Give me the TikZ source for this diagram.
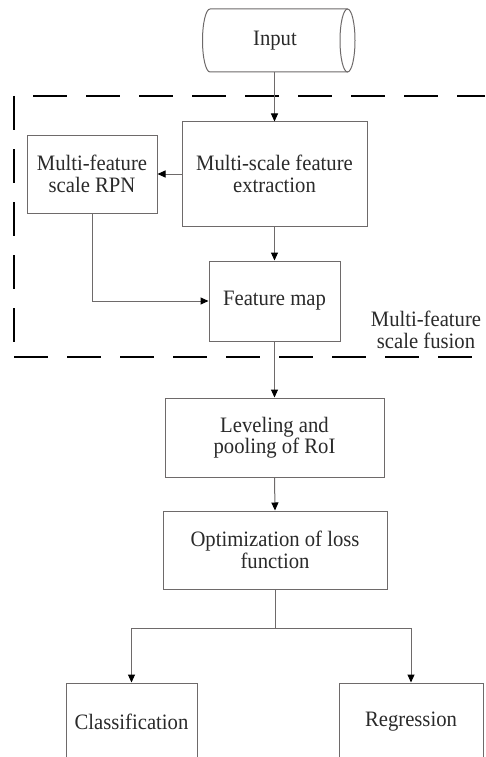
\documentclass[tikz,border=0pt]{standalone}
\usepackage{fontspec}
\setmainfont{Liberation Serif}[FakeStretch=0.94]
\usetikzlibrary{arrows.meta}
\definecolor{edge}{HTML}{6E6A6A}
\definecolor{ink}{HTML}{2A2A2A}
\tikzset{
  every node/.style={font=\fontsize{22}{21.5}\selectfont, text=ink},
  stepbox/.style={draw=edge, line width=1pt, align=center, inner sep=2pt},
  link/.style={draw=edge, line width=1pt},
  flow/.style={link, -{Triangle[length=8pt,width=7pt,color=black]}},
  groupline/.style={draw=black, line width=2.6pt, dash pattern=on 34pt off 19pt}
}
\begin{document}
\begin{tikzpicture}[x=1pt,y=-1pt]
\useasboundingbox (0,0) rectangle (485,757);
\clip (0,0) rectangle (485,757);
\fill[white] (0,0) rectangle (485,757);

% input drum
\draw[link] (210,9) -- (347.5,9)
  (210,72) -- (347.5,72)
  (210,9) .. controls (205.9,9) and (202.5,23.1) .. (202.5,40.5)
          .. controls (202.5,57.9) and (205.9,72) .. (210,72);
\draw[link] (347.5,40.5) ellipse [x radius=7.5, y radius=31.5];
\node[minimum width=140pt, minimum height=63pt, inner sep=0pt] (input) at (275,40.5) {Input};

% processing steps
\node[stepbox, minimum width=185pt, minimum height=104pt] (ext) at (274.5,174) {Multi-scale feature\\extraction};
\node[stepbox, minimum width=130pt, minimum height=78pt] (rpn) at (92,174) {Multi-feature\\scale RPN};
\node[stepbox, minimum width=131pt, minimum height=80pt] (fmap) at (274.5,301) {Feature map};
\node[stepbox, minimum width=219pt, minimum height=79pt] (level) at (274.5,437.5) {Leveling and\\pooling of RoI};
\node[stepbox, minimum width=224pt, minimum height=78pt] (opt) at (275,550) {Optimization of loss\\function};
\node[stepbox, minimum width=131pt, minimum height=78pt] (cls) at (131.5,722) {Classification};
\node[stepbox, minimum width=144pt, minimum height=78pt] (reg) at (411,722) {Regression};

% fusion group
\draw[groupline, dash phase=34pt] (14,96) -- (485,96);
\draw[groupline] (14,96) -- (14,357);
\draw[groupline] (14,357) -- (472,357);
\node[align=center] (fusion) at (426,330) {Multi-feature\\scale fusion};

% connectors
\draw[flow] (input.south -| ext.north) -- (ext.north);
\draw[flow] (ext.west) -- (rpn.east);
\draw[flow] (ext.south) -- (fmap.north);
\draw[flow] (rpn.south) |- (fmap.west);
\draw[flow] (fmap.south) -- (level.north);
\draw[flow] (level.south) -- (opt.north);
\coordinate (split) at (opt.south |- 0,628);
\draw[link] (opt.south) -- (split);
\draw[flow] (split) -| (cls.north);
\draw[flow] (split) -| (reg.north);
\end{tikzpicture}
\end{document}
